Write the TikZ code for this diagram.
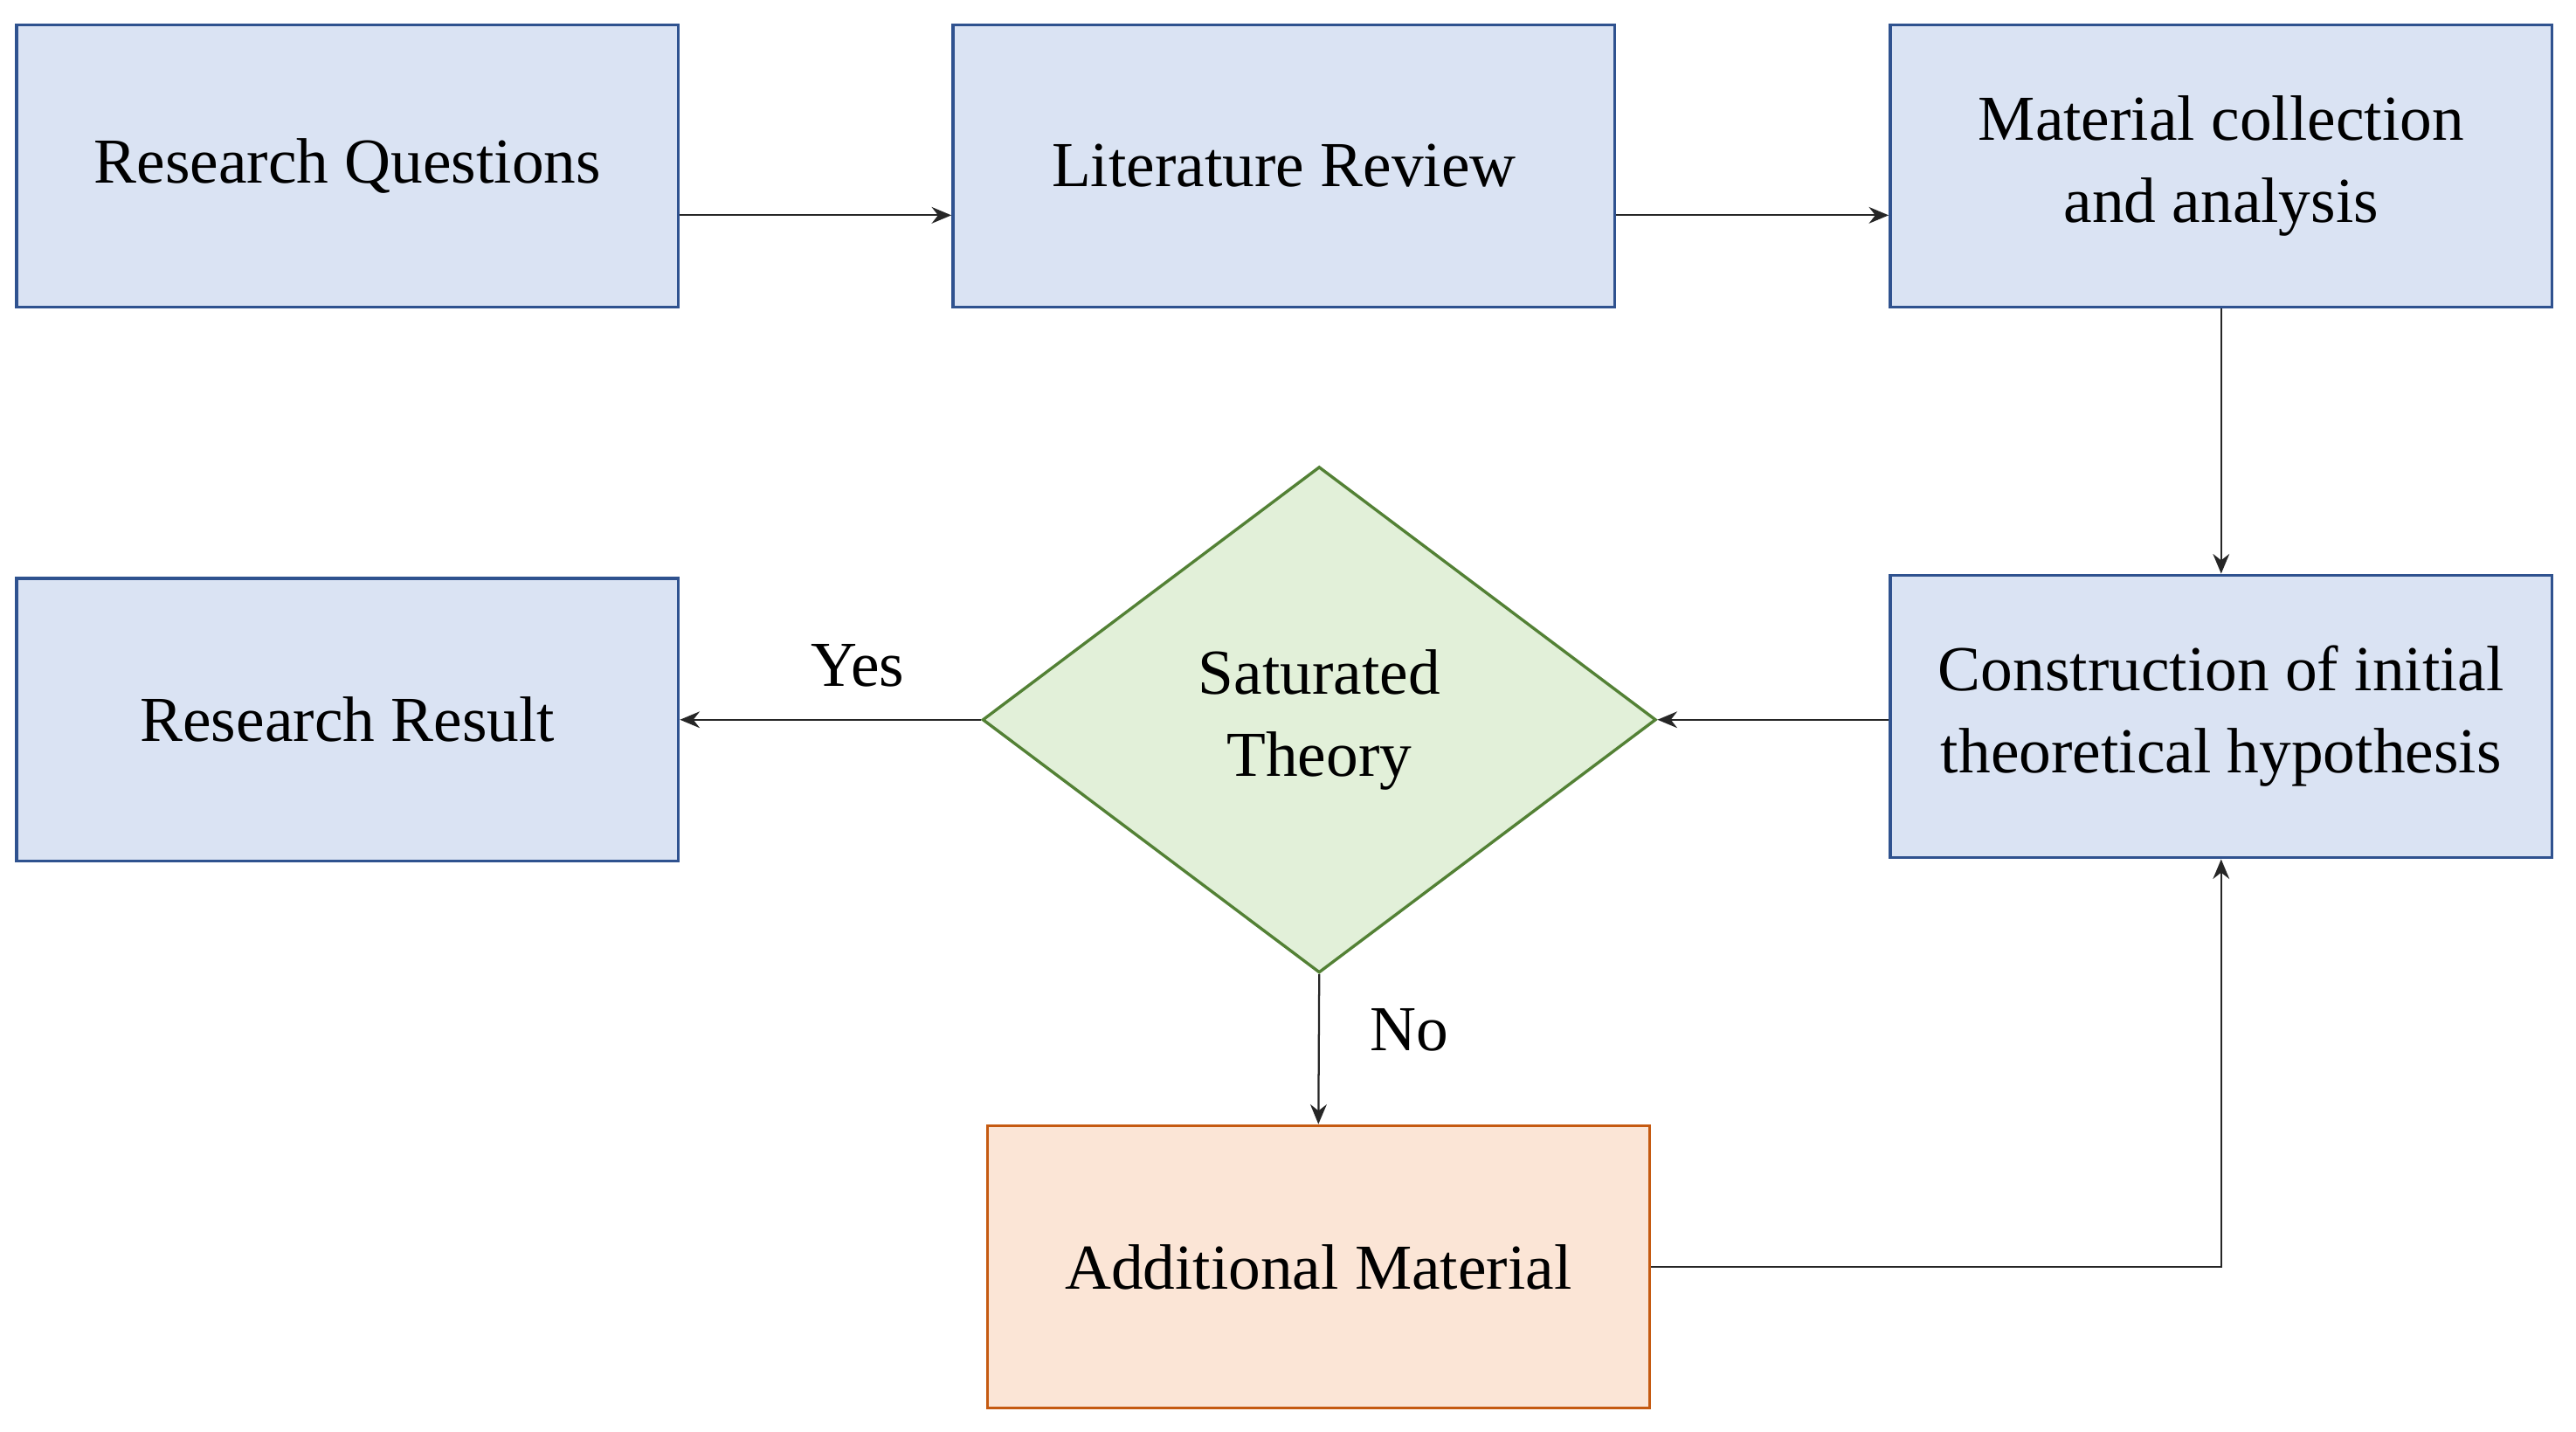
\documentclass[tikz,border=0pt]{standalone}
\usepackage{fontspec}
\setmainfont{Liberation Serif}
\usetikzlibrary{shapes.geometric,arrows.meta}
\definecolor{bfill}{HTML}{DAE3F3}\definecolor{bdraw}{HTML}{2F528F}
\definecolor{gfill}{HTML}{E2F0D9}\definecolor{gdraw}{HTML}{538135}
\definecolor{ofill}{HTML}{FBE5D6}\definecolor{odraw}{HTML}{C55A11}
\begin{document}
\begin{tikzpicture}[x=0.5pt,y=-0.5pt,
  box/.style={draw=bdraw,fill=bfill,line width=0.9pt,minimum width=201.5pt,minimum height=86pt,inner sep=0pt,align=center,font=\fontsize{19.5}{25}\selectfont},
  arr/.style={-{Stealth[length=6pt,width=5pt]},line width=0.6pt,draw=black!85},
  lab/.style={font=\fontsize{19.5}{25}\selectfont}]
\useasboundingbox (0,0) rectangle (1568,871);
\node[box] (rq) at (211.5,101) {Research Questions};
\node[box] (lr) at (781.5,101) {Literature Review};
\node[box] (mc) at (1352,101) {Material collection\\and analysis};
\node[box] (ch) at (1352,436) {Construction of initial\\theoretical hypothesis};
\node[box] (rr) at (211.5,438) {Research Result};
\node[diamond,draw=gdraw,fill=gfill,line width=0.9pt,minimum width=205pt,minimum height=154pt,inner sep=0pt,align=center,font=\fontsize{19.5}{25}\selectfont] (st) at (803,438) {Saturated\\Theory};
\node[box,draw=odraw,fill=ofill] (am) at (802.5,771) {Additional Material};
\draw[arr] (rq.east|-0,131) -- (lr.west|-0,131);
\draw[arr] (lr.east|-0,131) -- (mc.west|-0,131);
\draw[arr] (mc) -- (ch);
\draw[arr] (ch.west|-st) -- (st.east);
\draw[arr] (st.west) -- (rr.east|-st);
\draw[arr] (st.south) -- (am.north);
\draw[arr] (am.east) -| (ch.south);
\node[lab] (yes) at (522,405) {Yes};
\node[lab] (no) at (858,627) {No};
\end{tikzpicture}
\end{document}
